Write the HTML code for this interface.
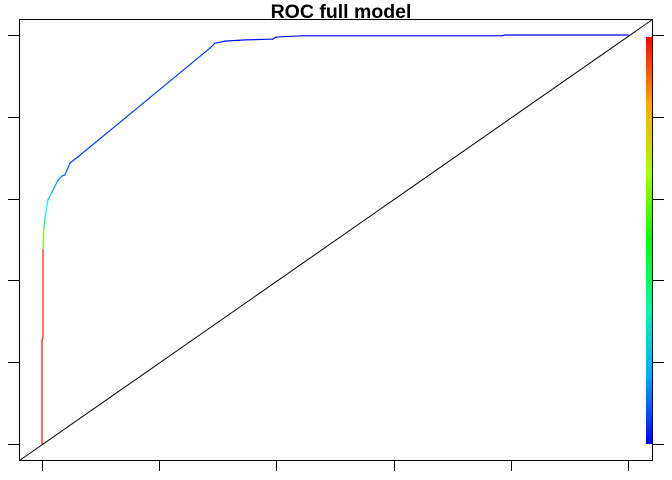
<!DOCTYPE html>
<html><head><meta charset="utf-8"><style>
html,body{margin:0;padding:0;background:#fff;}
svg{display:block;font-family:"Liberation Sans",sans-serif;}
</style></head><body>
<svg id="chart" width="672" height="480">
<text x="341" y="18" text-anchor="middle" font-size="19.5" font-weight="bold">ROC full model</text>
<g id="curve"></g>
<g id="axes"></g>
<g id="cbar"></g>
</svg>
<script>
const fprValues=[0,0,0.0017,0.0017,0.0034,0.0051,0.0102,0.0171,0.0273,0.0341,0.0392,0.0427,0.0478,0.0614,0.2867,0.2952,0.3123,0.3464,0.3942,0.3993,0.4437,0.7850,0.7901,1];
const tprValues=[0,0.254,0.259,0.477,0.528,0.553,0.597,0.616,0.645,0.655,0.658,0.670,0.687,0.702,0.968,0.980,0.985,0.988,0.990,0.995,0.998,0.998,1,1];
const cutoffValues=[1,0.97,0.97,0.6,0.4,0.28,0.2,0.15,0.12,0.1,0.09,0.08,0.07,0.06,0.04,0.03,0.02,0.02,0.01,0.01,0.01,0,0,0];
const yTicks=[0,0.2,0.4,0.6,0.8,1];
const xTicks=[0,0.2,0.4,0.6,0.8,1];
const NS="http://www.w3.org/2000/svg";
const X0=42,X1=628,Y0=444,Y1=35;
const L=19.5,T=19.5,R=652.5,B=460.5;
function sx(v){return X0+(X1-X0)*v;}
function sy(v){return Y0-(Y0-Y1)*v;}
function col(c){return "hsl("+(240*(1-c))+",100%,50%)";}
function mk(tag,attrs,parent){const e=document.createElementNS(NS,tag);for(const k in attrs)e.setAttribute(k,attrs[k]);parent.appendChild(e);return e;}
const axes=document.getElementById('axes'),curve=document.getElementById('curve'),cbar=document.getElementById('cbar');
const defs=mk('defs',{},document.getElementById('chart'));
const lg=mk('linearGradient',{id:'rb',x1:0,y1:1,x2:0,y2:0},defs);
for(let i=0;i<=6;i++){mk('stop',{offset:i/6,'stop-color':col(i/6)},lg);}
const cb=mk('rect',{x:646,y:37,width:6,height:407,fill:'url(#rb)'},cbar);


const d=mk('line',{x1:L,y1:B,x2:R,y2:T,stroke:'#000','stroke-width':1},axes);


for(let i=1;i<fprValues.length;i++){
  const s=mk('line',{x1:sx(fprValues[i-1]),y1:sy(tprValues[i-1]),x2:sx(fprValues[i]),y2:sy(tprValues[i]),stroke:col(cutoffValues[i-1]),'stroke-width':1.2,'stroke-linecap':'square'},curve);
  
  
}
const bx=mk('rect',{x:L,y:T,width:R-L,height:B-T,fill:'none',stroke:'#000','stroke-width':1},axes);


yTicks.forEach(v=>{
  const y=Math.round(sy(v))+0.5;
  const t=mk('line',{x1:8,y1:y,x2:L,y2:y,stroke:'#000'},axes);
  
  
  const t2=mk('line',{x1:R,y1:y,x2:664,y2:y,stroke:'#000'},axes);
  
  
});
xTicks.forEach(v=>{
  const x=Math.round(sx(v))+0.5;
  const t=mk('line',{x1:x,y1:B,x2:x,y2:471,stroke:'#000'},axes);
  
  
});
</script>
</body></html>
